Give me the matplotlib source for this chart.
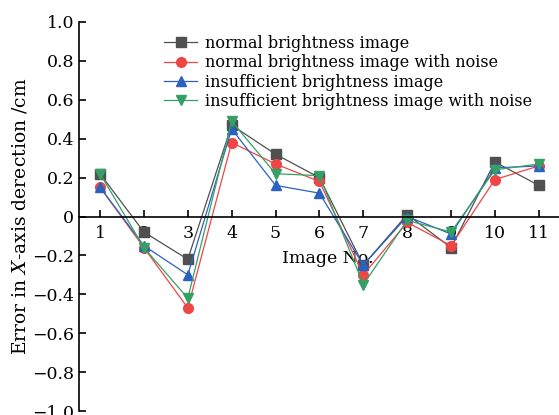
import matplotlib
matplotlib.use("Agg")
import matplotlib.pyplot as plt

plt.rcParams["font.family"] = "DejaVu Serif"
plt.rcParams["mathtext.fontset"] = "dejavuserif"

image_no = [1, 2, 3, 4, 5, 6, 7, 8, 9, 10, 11]

normal = [0.22, -0.08, -0.22, 0.47, 0.32, 0.20, -0.25, 0.01, -0.16, 0.28, 0.16]
normal_noise = [0.15, -0.16, -0.47, 0.38, 0.27, 0.18, -0.30, -0.03, -0.15, 0.19, 0.26]
insufficient = [0.15, -0.15, -0.30, 0.45, 0.16, 0.12, -0.25, 0.00, -0.09, 0.25, 0.26]
insufficient_noise = [0.22, -0.16, -0.42, 0.49, 0.22, 0.21, -0.35, -0.02, -0.08, 0.24, 0.27]

labels = [
    "normal brightness image",
    "normal brightness image with noise",
    "insufficient brightness image",
    "insufficient brightness image with noise",
]
colours = ["#505050", "#f04545", "#2a62c4", "#35a065"]
markers = ["s", "o", "^", "v"]

fig = plt.figure(figsize=(5.59, 4.15), dpi=100)
ax = fig.add_axes([0.1413, 0.0096, 0.8587, 0.9374])

for series, label, colour, marker in zip(
    [normal, normal_noise, insufficient, insufficient_noise], labels, colours, markers
):
    ax.plot(image_no, series, color=colour, marker=marker, markersize=7,
            linewidth=0.9, label=label)

ax.set_xlim(0.52, 11.46)
ax.set_ylim(-1.0, 1.0)
ax.set_xticks(image_no)
ax.set_yticks([-1.0, -0.8, -0.6, -0.4, -0.2, 0, 0.2, 0.4, 0.6, 0.8, 1.0])
ax.set_yticklabels(["\u22121.0", "\u22120.8", "\u22120.6", "\u22120.4", "\u22120.2", "0",
                    "0.2", "0.4", "0.6", "0.8", "1.0"])

ax.spines["top"].set_visible(False)
ax.spines["right"].set_visible(False)
ax.spines["bottom"].set_position(("data", 0))
ax.spines["left"].set_linewidth(1.2)
ax.spines["bottom"].set_linewidth(1.2)
ax.tick_params(direction="in", length=5, width=1.2, labelsize=12.5)
ax.tick_params(axis="x", pad=6)

ax.set_xlabel("Image No.", fontsize=12.5)
ax.xaxis.set_label_coords(6.2, -0.17, transform=ax.transData)
ax.set_ylabel("Error in $X$-axis derection /cm", fontsize=13.5)
ax.yaxis.set_label_coords(-0.104, 0.5)

ax.legend(loc="upper left", bbox_to_anchor=(0.16, 0.987), frameon=False,
          fontsize=11.5, handlelength=2.1, handletextpad=0.5, labelspacing=0.14,
          borderpad=0)

fig.savefig("out.png", dpi=100)
